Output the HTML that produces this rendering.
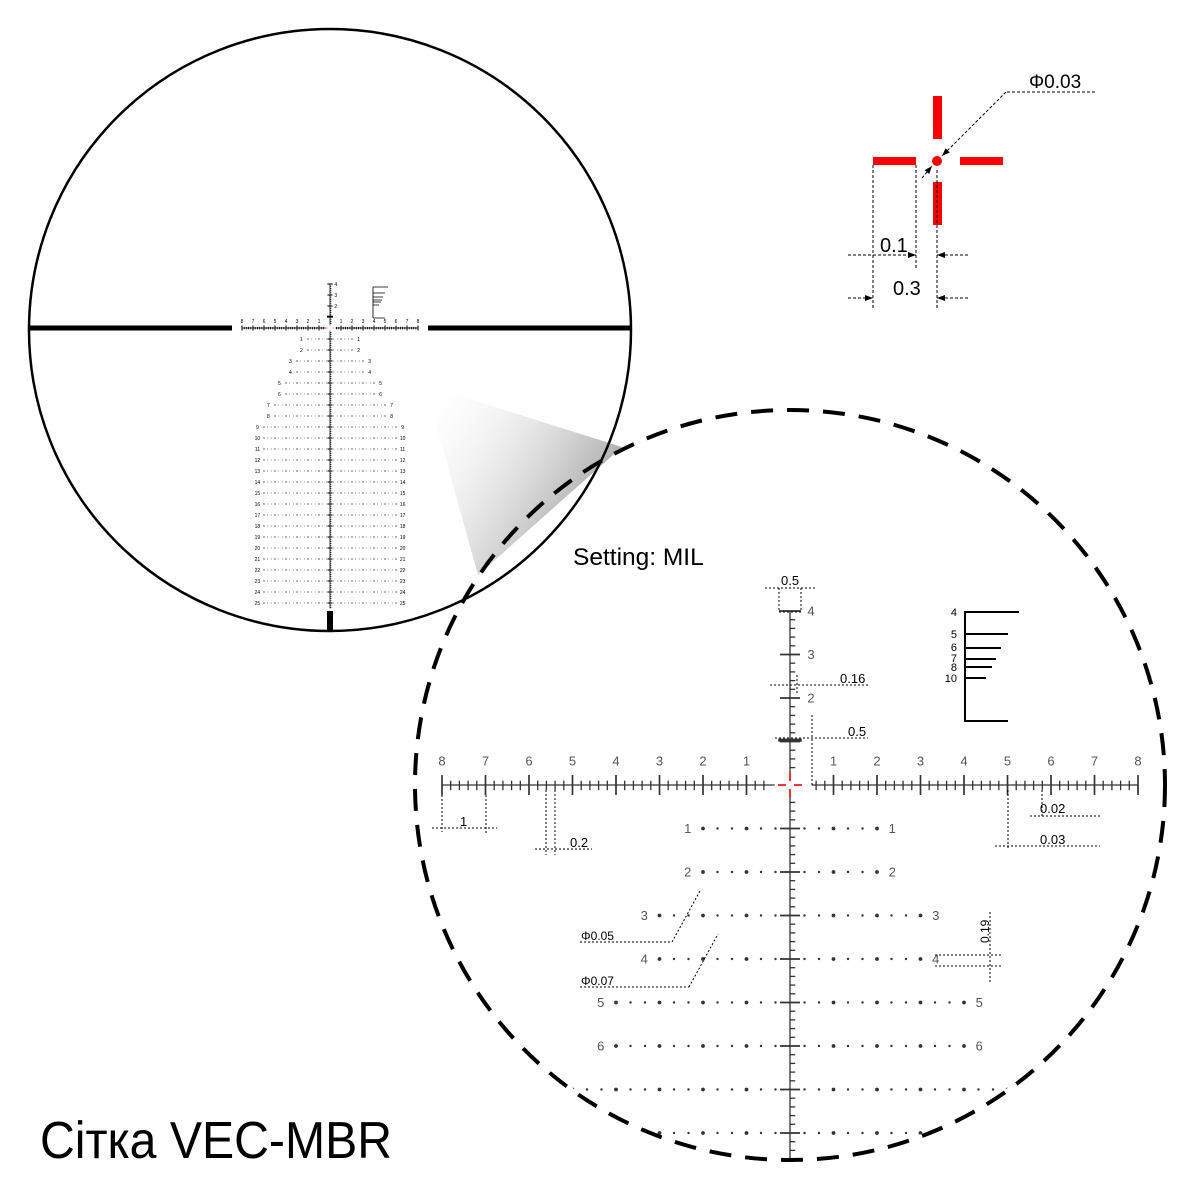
<!DOCTYPE html>
<html><head><meta charset="utf-8"><style>
html,body{margin:0;padding:0;background:#fff}
svg{display:block}
text{font-family:"Liberation Sans",sans-serif}
</style></head><body>
<svg id="s" width="1200" height="1200" viewBox="0 0 1200 1200" xmlns="http://www.w3.org/2000/svg">
<defs>
<linearGradient id="g" x1="0" y1="0" x2="1" y2="0.6">
<stop offset="0" stop-color="#fff" stop-opacity="0"/>
<stop offset="1" stop-color="#999"/>
</linearGradient>
<clipPath id="cd"><circle cx="790" cy="785" r="373"/></clipPath>
<marker id="ar" markerWidth="8" markerHeight="6" refX="8" refY="3" orient="auto"><path d="M0,0 L8,3 L0,6z" fill="#000"/></marker>
</defs>
<polygon points="425,385 622,447 478,575" fill="url(#g)"/>
<circle cx="330" cy="330" r="301" fill="none" stroke="#000" stroke-width="2.5"/>
<line x1="28" y1="328" x2="232" y2="328" stroke="#000" stroke-width="5"/>
<line x1="428" y1="328" x2="631" y2="328" stroke="#000" stroke-width="5"/>
<rect x="327" y="611" width="6" height="20" fill="#000"/>
<g id="mini"></g>
<circle cx="790" cy="785" r="375" fill="#fff" fill-opacity="0" stroke="#000" stroke-width="4" stroke-dasharray="22,14"/>
<g id="det" clip-path="url(#cd)"></g>
<text x="573" y="565" font-size="24.5">Setting: MIL</text>
<text x="40" y="1158" font-size="52" textLength="352" lengthAdjust="spacingAndGlyphs">Сітка VEC-MBR</text>
<g fill="#f00">
<rect x="873" y="157" width="43" height="8"/><rect x="960" y="157" width="43" height="8"/>
<rect x="933" y="96" width="9" height="43"/><rect x="933" y="182" width="9" height="43"/>
<circle cx="937" cy="161" r="5"/>
</g>
<g stroke="#000" stroke-width="1" stroke-dasharray="3,2" fill="none">
<line x1="873" y1="165" x2="873" y2="310"/><line x1="916" y1="165" x2="916" y2="270"/><line x1="937" y1="170" x2="937" y2="310"/>
<line x1="848" y1="255" x2="916" y2="255" marker-end="url(#ar)"/><line x1="968" y1="255" x2="937" y2="255" marker-end="url(#ar)"/>
<line x1="848" y1="298" x2="873" y2="298" marker-end="url(#ar)"/><line x1="968" y1="298" x2="937" y2="298" marker-end="url(#ar)"/>
<line x1="1095" y1="92" x2="1006" y2="92"/><line x1="1006" y1="92" x2="942" y2="156" marker-end="url(#ar)"/><line x1="922" y1="178" x2="932" y2="166" marker-end="url(#ar)"/>
</g>
<text x="880" y="252" font-size="20">0.1</text>
<text x="893" y="295" font-size="20">0.3</text>
<text x="1029" y="88" font-size="19">Φ0.03</text>
<g stroke="#000" stroke-width="2">
<line x1="965" y1="611" x2="965" y2="722"/>
<line x1="964" y1="612" x2="1019" y2="612"/><line x1="964" y1="634" x2="1008" y2="634"/>
<line x1="964" y1="648" x2="1001" y2="648"/><line x1="964" y1="659" x2="996" y2="659"/>
<line x1="964" y1="667" x2="992" y2="667"/><line x1="964" y1="678" x2="986" y2="678"/>
<line x1="964" y1="721" x2="1008" y2="721"/>
</g>
<g font-size="11" text-anchor="end">
<text x="957" y="616">4</text><text x="957" y="638">5</text><text x="957" y="651">6</text><text x="957" y="662">7</text><text x="957" y="671">8</text><text x="957" y="682">10</text>
</g>
<g stroke="#000" stroke-width="1" stroke-dasharray="2,2" fill="none">
<line x1="765" y1="588" x2="815" y2="588"/><line x1="779" y1="588" x2="779" y2="612"/><line x1="801" y1="588" x2="801" y2="612"/><line x1="779" y1="612" x2="801" y2="612"/>
<line x1="770" y1="685" x2="868" y2="685"/><line x1="797" y1="675" x2="797" y2="695"/>
<line x1="775" y1="738" x2="868" y2="738"/><line x1="812" y1="715" x2="812" y2="785"/>
<line x1="442" y1="795" x2="442" y2="832"/><line x1="486" y1="795" x2="486" y2="835"/><line x1="432" y1="828" x2="497" y2="828"/>
<line x1="546" y1="790" x2="546" y2="855"/><line x1="555" y1="790" x2="555" y2="855"/><line x1="535" y1="849" x2="592" y2="849"/>
<line x1="1042" y1="790" x2="1042" y2="818"/><line x1="1030" y1="816" x2="1100" y2="816"/>
<line x1="1008" y1="790" x2="1008" y2="850"/><line x1="995" y1="846" x2="1100" y2="846"/>
<line x1="580" y1="942" x2="672" y2="942"/><line x1="672" y1="942" x2="700" y2="891"/>
<line x1="580" y1="987" x2="689" y2="987"/><line x1="689" y1="987" x2="718" y2="934"/>
<line x1="935" y1="955" x2="1002" y2="955"/><line x1="935" y1="966" x2="1002" y2="966"/><line x1="990" y1="912" x2="990" y2="982"/>
</g>
<g font-size="13">
<text x="781" y="585">0.5</text><text x="840" y="683">0.16</text><text x="848" y="736">0.5</text>
<text x="460" y="826">1</text><text x="570" y="847">0.2</text>
<text x="1040" y="813">0.02</text><text x="1040" y="844">0.03</text>
<text x="581" y="940" font-size="12">Φ0.05</text><text x="581" y="985" font-size="12">Φ0.07</text>
<text transform="translate(989,943) rotate(-90)" font-size="12">0.19</text>
</g>
</svg>
<script>
var NS="http://www.w3.org/2000/svg";
function el(p,t,a,txt){var e=document.createElementNS(NS,t);for(var k in a)e.setAttribute(k,a[k]);if(txt!==undefined)e.textContent=txt;p.appendChild(e);return e;}
function draw(g,cx,cy,S,rows,mini){
 var sw=mini?0.8:1.3,col=mini?"#000":"#333",fs=mini?5:13,lc=mini?"#000":"#555";
 el(g,"line",{x1:cx-8*S,y1:cy,x2:cx-0.35*S,y2:cy,stroke:col,"stroke-width":sw});
 el(g,"line",{x1:cx+0.5*S,y1:cy,x2:cx+8*S,y2:cy,stroke:col,"stroke-width":sw});
 for(var i=-40;i<=40;i++){var m=i/5;if(Math.abs(m)<0.5)continue;var x=cx+m*S;
  if(i%5==0){el(g,"line",{x1:x,y1:cy-S*0.23,x2:x,y2:cy+S*0.23,stroke:col,"stroke-width":sw*1.3});
   el(g,"text",{x:x,y:cy-S*0.45,"font-size":fs,"text-anchor":"middle",fill:lc},Math.abs(m));}
  else el(g,"line",{x1:x,y1:cy-S*0.1,x2:x,y2:cy+S*0.12,stroke:col,"stroke-width":sw});}
 el(g,"line",{x1:cx,y1:cy-4*S,x2:cx,y2:cy-0.25*S,stroke:col,"stroke-width":sw});
 for(var i=2;i<=20;i++){var y=cy-i/5*S;
  if(i%5==0){var w=(i==20)?0.25:0.23;el(g,"line",{x1:cx-w*S,y1:y,x2:cx+w*S,y2:y,stroke:col,"stroke-width":sw*1.3});
   if(i>5)el(g,"text",{x:cx+S*0.4,y:y+fs*0.35,"font-size":fs,fill:lc},i/5);}
  else if(i!=5) el(g,"line",{x1:cx,y1:y,x2:cx+S*0.12,y2:y,stroke:col,"stroke-width":sw});}
 el(g,"line",{x1:cx-0.27*S,y1:cy-1.03*S,x2:cx+0.27*S,y2:cy-1.03*S,stroke:col,"stroke-width":sw*2.4});
 el(g,"line",{x1:cx,y1:cy+0.25*S,x2:cx,y2:cy+(rows+0.5)*S,stroke:col,"stroke-width":sw});
 for(var i=2;i<=rows*5+2;i++){var y=cy+i/5*S;
  if(i%5==0)el(g,"line",{x1:cx-0.23*S,y1:y,x2:cx+0.23*S,y2:y,stroke:col,"stroke-width":sw*1.3});
  else el(g,"line",{x1:cx,y1:y,x2:cx+S*0.12,y2:y,stroke:col,"stroke-width":sw});}
 for(var n=1;n<=rows;n++){var y=cy+n*S;var hw=n<=2?2:n<=4?3:n<=6?4:n<=8?5:6;
  for(var k=-hw*3;k<=hw*3;k++){if(k==0)continue;var x=cx+k/3*S;var big=(k%3==0);
   el(g,"circle",{cx:x,cy:y,r:(mini?(big?0.6:0.4):(big?1.9:1.2)),fill:col});}
  var lx=hw*S+(mini?S*0.6:S*0.35);
  if(mini||n<=6){el(g,"text",{x:cx-lx,y:y+fs*0.35,"font-size":fs,"text-anchor":"middle",fill:lc},n);
  el(g,"text",{x:cx+lx,y:y+fs*0.35,"font-size":fs,"text-anchor":"middle",fill:lc},n);}}
 var r=mini?"#f88":"#f00",a=mini?1.5:4,b=mini?4:12;
 el(g,"line",{x1:cx-b,y1:cy,x2:cx-a,y2:cy,stroke:r,"stroke-width":mini?0.8:1.6});
 el(g,"line",{x1:cx+a,y1:cy,x2:cx+b,y2:cy,stroke:r,"stroke-width":mini?0.8:1.6});
 el(g,"line",{x1:cx,y1:cy-b,x2:cx,y2:cy-a,stroke:r,"stroke-width":mini?0.8:1.6});
 el(g,"line",{x1:cx,y1:cy+a,x2:cx,y2:cy+b,stroke:r,"stroke-width":mini?0.8:1.6});
}
draw(document.getElementById("det"),790,785,43.5,9,false);
draw(document.getElementById("mini"),330,328,11,25,true);
var m=document.getElementById("mini");
el(m,"path",{d:"M373,287 V318 M373,287 H388 M373,293 H385 M373,297 H383 M373,300 H382 M373,302 H381 M373,305 H379 M373,318 H385",stroke:"#000","stroke-width":0.8,fill:"none"});
</script>
</body></html>
